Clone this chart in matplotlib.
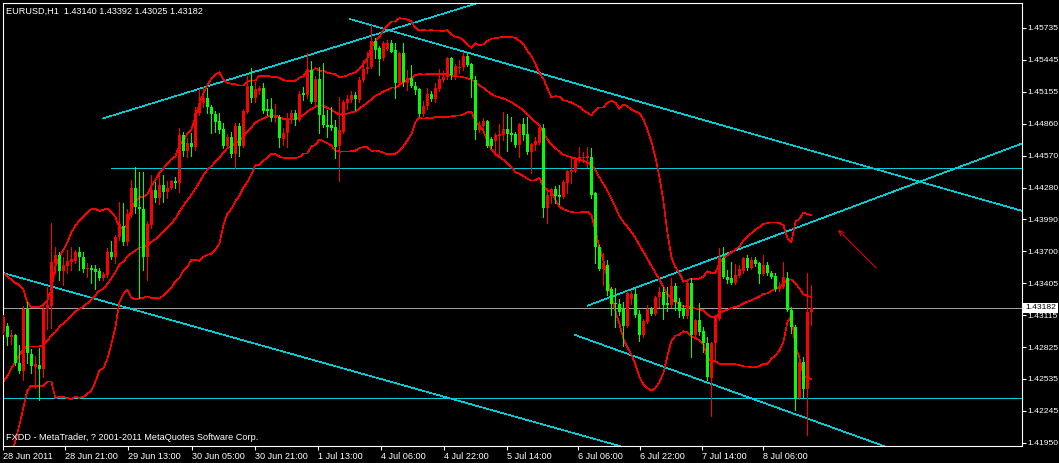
import numpy as np
import pandas as pd
import matplotlib
matplotlib.use("Agg")
import matplotlib.pyplot as plt
from matplotlib.transforms import blended_transform_factory

symbol = "EURUSD,H1"
copyright_text = "FXDD - MetaTrader, ? 2001-2011 MetaQuotes Software Corp."

opens = [1.4296, 1.4302, 1.4292, 1.4293, 1.4268, 1.4261, 1.4317, 1.4276, 1.4264, 1.4266,
         1.4262, 1.4317, 1.4320, 1.4359, 1.4366, 1.4352, 1.4356, 1.4360, 1.4361, 1.4369,
         1.4365, 1.4354, 1.4355, 1.4354, 1.4352, 1.4345, 1.4348, 1.4369, 1.4365, 1.4383,
         1.4393, 1.4378, 1.4403, 1.4428, 1.4410, 1.4408, 1.4365, 1.4394, 1.4426, 1.4418,
         1.4430, 1.4424, 1.4428, 1.4434, 1.4432, 1.4476, 1.4461, 1.4469, 1.4465, 1.4496,
         1.4505, 1.4510, 1.4501, 1.4495, 1.4489, 1.4481, 1.4466, 1.4474, 1.4459, 1.4484,
         1.4466, 1.4497, 1.4521, 1.4510, 1.4516, 1.4519, 1.4500, 1.4500, 1.4491, 1.4492,
         1.4472, 1.4478, 1.4490, 1.4496, 1.4490, 1.4514, 1.4512, 1.4535, 1.4506, 1.4527,
         1.4494, 1.4485, 1.4485, 1.4483, 1.4466, 1.4479, 1.4505, 1.4508, 1.4512, 1.4508,
         1.4526, 1.4536, 1.4538, 1.4562, 1.4555, 1.4546, 1.4554, 1.4560, 1.4553, 1.4523,
         1.4551, 1.4523, 1.4528, 1.4521, 1.4518, 1.4495, 1.4502, 1.4513, 1.4509, 1.4518,
         1.4526, 1.4529, 1.4546, 1.4531, 1.4537, 1.4538, 1.4548, 1.4541, 1.4526, 1.4480,
         1.4484, 1.4489, 1.4472, 1.4470, 1.4475, 1.4476, 1.4481, 1.4478, 1.4477, 1.4467,
         1.4486, 1.4477, 1.4460, 1.4467, 1.4469, 1.4482, 1.4409, 1.4420, 1.4427, 1.4421,
         1.4419, 1.4432, 1.4442, 1.4443, 1.4452, 1.4455, 1.4455, 1.4456, 1.4423, 1.4374,
         1.4354, 1.4357, 1.4335, 1.4323, 1.4322, 1.4317, 1.4302, 1.4326, 1.4331, 1.4313,
         1.4293, 1.4305, 1.4317, 1.4313, 1.4328, 1.4333, 1.4323, 1.4321, 1.4338, 1.4324,
         1.4318, 1.4311, 1.4341, 1.4293, 1.4307, 1.4297, 1.4286, 1.4254, 1.4286, 1.4308,
         1.4364, 1.4346, 1.4345, 1.4341, 1.4347, 1.4352, 1.4364, 1.4355, 1.4362, 1.4359,
         1.4349, 1.4357, 1.4350, 1.4347, 1.4335, 1.4337, 1.4345, 1.4316, 1.4301, 1.4236,
         1.4269, 1.4244, 1.43140]
highs = [1.4312, 1.4304, 1.4298, 1.4294, 1.4284, 1.4320, 1.4324, 1.4281, 1.4274, 1.4282,
         1.4321, 1.4337, 1.4396, 1.4374, 1.4369, 1.4365, 1.4371, 1.4374, 1.4371, 1.4374,
         1.4369, 1.4359, 1.4357, 1.4357, 1.4355, 1.4351, 1.4373, 1.4379, 1.4385, 1.4415,
         1.4414, 1.4408, 1.4435, 1.4447, 1.4442, 1.4442, 1.4397, 1.4439, 1.4433, 1.4439,
         1.4439, 1.4434, 1.4435, 1.4438, 1.4482, 1.4479, 1.4473, 1.4478, 1.4501, 1.4518,
         1.4520, 1.4519, 1.4503, 1.4498, 1.4496, 1.4487, 1.4477, 1.4479, 1.4487, 1.4487,
         1.4500, 1.4530, 1.4537, 1.4524, 1.4521, 1.4523, 1.4509, 1.4510, 1.4504, 1.4494,
         1.4482, 1.4496, 1.4499, 1.4499, 1.4516, 1.4520, 1.4551, 1.4543, 1.4530, 1.4538,
         1.4542, 1.4499, 1.4501, 1.4490, 1.4511, 1.4508, 1.4512, 1.4516, 1.4515, 1.4529,
         1.4544, 1.4552, 1.4576, 1.4564, 1.4557, 1.4562, 1.4563, 1.4563, 1.4560, 1.4552,
         1.4560, 1.4535, 1.4540, 1.4524, 1.4519, 1.4507, 1.4519, 1.4516, 1.4523, 1.4536,
         1.4534, 1.4547, 1.4547, 1.4541, 1.4544, 1.4552, 1.4551, 1.4542, 1.4530, 1.4489,
         1.4491, 1.4490, 1.4474, 1.4478, 1.4486, 1.4497, 1.4495, 1.4492, 1.4479, 1.4487,
         1.4491, 1.4492, 1.4469, 1.4474, 1.4486, 1.4486, 1.4428, 1.4428, 1.4429, 1.4430,
         1.4435, 1.4444, 1.4455, 1.4456, 1.4465, 1.4460, 1.4465, 1.4464, 1.4424, 1.4376,
         1.4368, 1.4362, 1.4337, 1.4336, 1.4326, 1.4324, 1.4334, 1.4334, 1.4335, 1.4316,
         1.4308, 1.4321, 1.4319, 1.4329, 1.4337, 1.4337, 1.4337, 1.4345, 1.4341, 1.4327,
         1.4321, 1.4344, 1.4345, 1.4308, 1.4323, 1.4301, 1.4292, 1.4287, 1.4312, 1.4373,
         1.4374, 1.4353, 1.4360, 1.4358, 1.4357, 1.4365, 1.4366, 1.4365, 1.4365, 1.4360,
         1.4366, 1.4360, 1.4352, 1.4350, 1.4342, 1.4360, 1.4351, 1.4319, 1.4303, 1.4273,
         1.4273, 1.4350, 1.43392]
lows = [1.4294, 1.4284, 1.4285, 1.4266, 1.4259, 1.4252, 1.4268, 1.4259, 1.4245, 1.4234,
        1.4255, 1.4299, 1.4300, 1.4350, 1.4344, 1.4339, 1.4350, 1.4353, 1.4359, 1.4353,
        1.4351, 1.4346, 1.4341, 1.4335, 1.4344, 1.4344, 1.4346, 1.4363, 1.4359, 1.4380,
        1.4376, 1.4376, 1.4401, 1.4405, 1.4327, 1.4353, 1.4344, 1.4391, 1.4415, 1.4413,
        1.4415, 1.4418, 1.4427, 1.4428, 1.4424, 1.4457, 1.4456, 1.4457, 1.4462, 1.4494,
        1.4501, 1.4496, 1.4478, 1.4479, 1.4478, 1.4464, 1.4464, 1.4456, 1.4446, 1.4457,
        1.4465, 1.4496, 1.4506, 1.4506, 1.4513, 1.4496, 1.4494, 1.4489, 1.4488, 1.4465,
        1.4467, 1.4465, 1.4487, 1.4485, 1.4489, 1.4508, 1.4510, 1.4505, 1.4501, 1.4478,
        1.4483, 1.4474, 1.4480, 1.4455, 1.4434, 1.4478, 1.4500, 1.4506, 1.4499, 1.4506,
        1.4524, 1.4532, 1.4537, 1.4546, 1.4531, 1.4544, 1.4553, 1.4552, 1.4510, 1.4521,
        1.4521, 1.4517, 1.4520, 1.4513, 1.4493, 1.4493, 1.4500, 1.4507, 1.4506, 1.4516,
        1.4524, 1.4527, 1.4527, 1.4527, 1.4532, 1.4535, 1.4539, 1.4511, 1.4472, 1.4479,
        1.4482, 1.4465, 1.4464, 1.4460, 1.4458, 1.4471, 1.4461, 1.4470, 1.4465, 1.4456,
        1.4471, 1.4459, 1.4441, 1.4462, 1.4468, 1.4401, 1.4396, 1.4414, 1.4414, 1.4413,
        1.4418, 1.4423, 1.4432, 1.4442, 1.4451, 1.4451, 1.4447, 1.4418, 1.4359, 1.4353,
        1.4339, 1.4330, 1.4312, 1.4301, 1.4312, 1.4283, 1.4301, 1.4322, 1.4310, 1.4288,
        1.4292, 1.4304, 1.4312, 1.4312, 1.4319, 1.4308, 1.4315, 1.4319, 1.4316, 1.4310,
        1.4309, 1.4309, 1.4273, 1.4291, 1.4293, 1.4278, 1.4252, 1.4220, 1.4269, 1.4307,
        1.4345, 1.4341, 1.4340, 1.4340, 1.4346, 1.4350, 1.4353, 1.4354, 1.4356, 1.4341,
        1.4348, 1.4348, 1.4345, 1.4334, 1.4334, 1.4336, 1.4315, 1.4295, 1.4225, 1.4235,
        1.4237, 1.4202, 1.43025]
closes = [1.4310, 1.4292, 1.4293, 1.4268, 1.4261, 1.4317, 1.4277, 1.4265, 1.4267, 1.4262,
          1.4317, 1.4321, 1.4360, 1.4366, 1.4352, 1.4357, 1.4361, 1.4363, 1.4369, 1.4365,
          1.4354, 1.4355, 1.4353, 1.4351, 1.4345, 1.4349, 1.4369, 1.4365, 1.4383, 1.4395,
          1.4378, 1.4404, 1.4428, 1.4410, 1.4408, 1.4365, 1.4395, 1.4426, 1.4418, 1.4430,
          1.4424, 1.4428, 1.4434, 1.4432, 1.4476, 1.4461, 1.4469, 1.4465, 1.4496, 1.4505,
          1.4510, 1.4501, 1.4495, 1.4488, 1.4480, 1.4466, 1.4474, 1.4459, 1.4484, 1.4466,
          1.4498, 1.4521, 1.4510, 1.4518, 1.4519, 1.4498, 1.4498, 1.4491, 1.4494, 1.4473,
          1.4478, 1.4491, 1.4496, 1.4490, 1.4513, 1.4512, 1.4535, 1.4506, 1.4527, 1.4494,
          1.4485, 1.4483, 1.4482, 1.4465, 1.4480, 1.4506, 1.4509, 1.4512, 1.4509, 1.4526,
          1.4536, 1.4538, 1.4562, 1.4553, 1.4545, 1.4560, 1.4560, 1.4552, 1.4523, 1.4551,
          1.4524, 1.4528, 1.4521, 1.4517, 1.4495, 1.4502, 1.4513, 1.4509, 1.4519, 1.4527,
          1.4529, 1.4546, 1.4531, 1.4539, 1.4538, 1.4548, 1.4540, 1.4527, 1.4480, 1.4485,
          1.4489, 1.4466, 1.4466, 1.4476, 1.4477, 1.4481, 1.4477, 1.4476, 1.4467, 1.4486,
          1.4476, 1.4460, 1.4468, 1.4470, 1.4482, 1.4409, 1.4421, 1.4427, 1.4420, 1.4419,
          1.4433, 1.4443, 1.4444, 1.4453, 1.4456, 1.4456, 1.4457, 1.4421, 1.4374, 1.4354,
          1.4359, 1.4334, 1.4322, 1.4322, 1.4314, 1.4302, 1.4332, 1.4331, 1.4312, 1.4293,
          1.4306, 1.4317, 1.4313, 1.4328, 1.4333, 1.4321, 1.4321, 1.4338, 1.4324, 1.4315,
          1.4311, 1.4341, 1.4293, 1.4307, 1.4296, 1.4286, 1.4255, 1.4286, 1.4310, 1.4365,
          1.4346, 1.4344, 1.4341, 1.4348, 1.4354, 1.4364, 1.4355, 1.4362, 1.4358, 1.4349,
          1.4357, 1.4350, 1.4346, 1.4335, 1.4338, 1.4346, 1.4316, 1.4301, 1.4236, 1.4269,
          1.4244, 1.4314, 1.43182]

# Bollinger Bands (20, 2): values for the first bars, whose history is off-screen
bb_period = 20
bb_deviation = 2.0
bb_upper_head = [1.4350, 1.4347, 1.4344, 1.4341, 1.4339, 1.4335, 1.4323, 1.4319, 1.4319, 1.4319,
                 1.4321, 1.4325, 1.4335, 1.4356, 1.4365, 1.4371, 1.4378, 1.4387, 1.4393]
bb_mid_head = [1.4251, 1.4256, 1.4263, 1.4269, 1.4275, 1.4281, 1.4283, 1.4283, 1.4283, 1.4283,
               1.4284, 1.4288, 1.4293, 1.4296, 1.4301, 1.4304, 1.4307, 1.4311, 1.4315]

# Drawn objects (bar index, price)
ray_lines = [
    ((25.0, 1.44911), (117.9, 1.45955)),
    ((86.7, 1.45816), (254.4, 1.44069)),
    ((-0.3, 1.43503), (49.2, 1.42996)),
    ((146.0, 1.43202), (190.0, 1.43801)),
    ((142.9, 1.42935), (200.8, 1.42175)),
]
horizontal_ray = (27.0, 1.44458)
horizontal_line = 1.42358
arrow_from = (218.7, 1.43528)
arrow_to = (208.2, 1.43911)

x_tick_pos = [-0.08, 15.4, 31.2, 47.2, 62.9, 78.7, 94.4, 110.2, 125.9, 143.6, 159.2, 174.7, 190.0]
x_tick_labels = ["28 Jun 2011", "28 Jun 21:00", "29 Jun 13:00", "30 Jun 05:00", "30 Jun 21:00",
                 "1 Jul 13:00", "4 Jul 06:00", "4 Jul 22:00", "5 Jul 14:00", "6 Jul 06:00",
                 "6 Jul 22:00", "7 Jul 14:00", "8 Jul 06:00"]
y_tick_vals = [1.45735, 1.45445, 1.45155, 1.44860, 1.44570, 1.44280, 1.43990, 1.43700,
               1.43405, 1.43115, 1.42825, 1.42535, 1.42245, 1.41950]

BULL = "#ff0000"
BEAR = "#00ff00"
CYAN = "#00ccd6"
BAND = "#ff0000"
BID_GRAY = "#a0a0a0"
FONT = "Liberation Sans"
FS = 6.6
FS_Y = 6.1
LW = 0.6
LW_DIAG = 0.45

W, H = 1059, 463
fig = plt.figure(figsize=(W / 100, H / 100), dpi=100, facecolor="black")
left_px, right_px, top_px, bottom_px = 3, 1021.5, 3, 446
ax = fig.add_axes([left_px / W, 1 - bottom_px / H, (right_px - left_px) / W, (bottom_px - top_px) / H])
ax.set_facecolor("black")
ax.set_xlim(-0.08, 254.5)
ax.set_ylim(1.41922, 1.45963)

o = np.array(opens); h = np.array(highs); l = np.array(lows); c = np.array(closes)
x = np.arange(len(c))
up = c >= o
colors = np.where(up, BULL, BEAR)

# Bollinger bands
cs = pd.Series(c)
mid = cs.rolling(bb_period).mean().to_numpy()
sd = cs.rolling(bb_period).std(ddof=0).to_numpy()
upper = mid + bb_deviation * sd
lower = mid - bb_deviation * sd
nh = len(bb_mid_head)
mid[:nh] = bb_mid_head
upper[:nh] = bb_upper_head
lower[:nh] = 2 * np.array(bb_mid_head) - np.array(bb_upper_head)
for band in (upper, mid, lower):
    ax.plot(x, band, color=BAND, lw=LW_DIAG, antialiased=False, zorder=2)

# Drawn lines
x_far = 400
for (x1, y1), (x2, y2) in ray_lines:
    s = (y2 - y1) / (x2 - x1)
    ax.plot([x1, x_far], [y1, y1 + s * (x_far - x1)], color=CYAN, lw=LW_DIAG, antialiased=False, zorder=1.5)
ax.plot([horizontal_ray[0], x_far], [horizontal_ray[1]] * 2, color=CYAN, lw=LW, antialiased=False, zorder=1.5)
ax.axhline(horizontal_line, color=CYAN, lw=LW, antialiased=False, zorder=1.5)
ax.axhline(closes[-1], color=BID_GRAY, lw=LW, antialiased=False, zorder=1.4)
ax.annotate("", xy=arrow_to, xytext=arrow_from,
            arrowprops=dict(arrowstyle="->", color="red", lw=0.7, mutation_scale=9), zorder=3)

# Candles
ax.vlines(x, l, h, colors=colors, lw=LW, antialiased=False, zorder=3)
body = np.maximum(np.abs(c - o), 0.00009)
ax.bar(x, body, bottom=np.minimum(o, c), width=0.72, color=colors, linewidth=0,
       antialiased=False, zorder=4)

# Axes styling
for sp in ax.spines.values():
    sp.set_color("white")
    sp.set_linewidth(0.8)
ax.yaxis.tick_right()
ax.set_yticks(y_tick_vals)
ax.set_yticklabels([f"{v:.5f}" for v in y_tick_vals])
ax.set_xticks(x_tick_pos)
ax.set_xticklabels(x_tick_labels)
ax.tick_params(colors="white", labelcolor="white", length=3, width=0.8)
ax.tick_params(axis="y", pad=1.5, labelsize=FS_Y)
ax.tick_params(axis="x", pad=1.5, labelsize=FS)
for lab in ax.get_xticklabels():
    lab.set_horizontalalignment("left")
    lab.set_fontfamily(FONT)
for lab in ax.get_yticklabels():
    lab.set_fontfamily(FONT)

# Current price label
tr = blended_transform_factory(ax.transAxes, ax.transData)
ax.text(1.0035, closes[-1], f"{closes[-1]:.5f}", transform=tr, ha="left", va="center",
        fontsize=FS_Y, family=FONT, color="black", zorder=10, clip_on=False,
        bbox=dict(facecolor="white", edgecolor="none", pad=1.3))

fig.text(6 / W, 1 - 11 / H,
         f"{symbol}  {opens[-1]:.5f} {highs[-1]:.5f} {lows[-1]:.5f} {closes[-1]:.5f}",
         color="white", fontsize=FS, family=FONT, va="center", ha="left")
fig.text(6 / W, 1 - 437.5 / H, copyright_text, color="white", fontsize=FS, family=FONT,
         va="center", ha="left")

fig.savefig("out.png", dpi=100, facecolor="black")
